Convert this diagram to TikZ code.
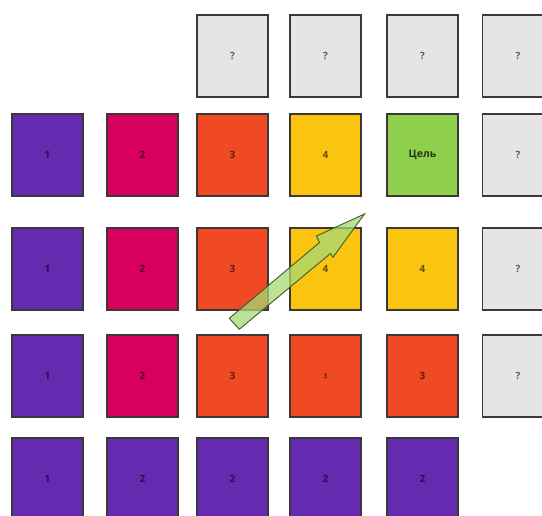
\documentclass[tikz,border=0pt]{standalone}
\usepackage{fontspec}
\setmainfont{Open Sans}
\definecolor{cpurple}{HTML}{642AB0}
\definecolor{cmagenta}{HTML}{D7005F}
\definecolor{cred}{HTML}{EF4A24}
\definecolor{cyellow}{HTML}{FAC411}
\definecolor{cgreen}{HTML}{8FCF4E}
\definecolor{cgray}{HTML}{E5E5E5}
\definecolor{cborder}{HTML}{3C3838}
\definecolor{carrow}{HTML}{A6D874}
\definecolor{carrowline}{HTML}{3F5A2E}
\begin{document}
\begin{tikzpicture}[x=1pt,y=1pt,
  card/.style={draw=cborder, line width=1.2pt, minimum width=71pt, minimum height=82pt, inner sep=0pt,
     font=\fontsize{10}{12}\selectfont\bfseries, text=black, text opacity=0.6},
  pu/.style={card, fill=cpurple},
  mg/.style={card, fill=cmagenta},
  rd/.style={card, fill=cred},
  ye/.style={card, fill=cyellow},
  gr/.style={card, fill=cgreen},
  gy/.style={card, fill=cgray}]
\useasboundingbox (0,0) rectangle (542,516);
\clip (0,0) rectangle (542,516);
% columns: 47.5, 142.5, 232.5, 325.5, 422.5, 518 ; rows (from top): 56, 155, 269, 376, 479
% row 0
\node[gy] (r0c2) at (232.5,460) {?};
\node[gy] (r0c3) at (325.5,460) {?};
\node[gy] (r0c4) at (422.5,460) {?};
\node[gy] (r0c5) at (518,460) {?};
% row 1
\node[pu] (r1c0) at (47.5,361) {1};
\node[mg] (r1c1) at (142.5,361) {2};
\node[rd] (r1c2) at (232.5,361) {3};
\node[ye] (r1c3) at (325.5,361) {4};
\node[gr, font=\fontsize{10.5}{12}\selectfont\bfseries, text opacity=0.75] (r1c4) at (422.5,361) {Цель};
\node[gy] (r1c5) at (518,361) {?};
% row 2
\node[pu] (r2c0) at (47.5,247) {1};
\node[mg] (r2c1) at (142.5,247) {2};
\node[rd] (r2c2) at (232.5,247) {3};
\node[ye] (r2c3) at (325.5,247) {4};
\node[ye] (r2c4) at (422.5,247) {4};
\node[gy] (r2c5) at (518,247) {?};
% row 3
\node[pu] (r3c0) at (47.5,140) {1};
\node[mg] (r3c1) at (142.5,140) {2};
\node[rd] (r3c2) at (232.5,140) {3};
\node[rd, font=\fontsize{6.5}{8}\selectfont\bfseries] (r3c3) at (325.5,140) {3};
\node[rd] (r3c4) at (422.5,140) {3};
\node[gy] (r3c5) at (518,140) {?};
% row 4
\node[pu] (r4c0) at (47.5,37) {1};
\node[pu] (r4c1) at (142.5,37) {2};
\node[pu] (r4c2) at (232.5,37) {2};
\node[pu] (r4c3) at (325.5,37) {2};
\node[pu] (r4c4) at (422.5,37) {2};
% arrow
\coordinate (ta) at (229.3,197.7);
\coordinate (tb) at (239.3,186.7);
\coordinate (jb) at (330.5,262.5);
\coordinate (hb) at (333,258.7);
\coordinate (tip) at (364.5,302);
\coordinate (ha) at (316.5,280);
\coordinate (ja) at (319.5,273.5);
\draw[fill=carrow, fill opacity=0.75, draw=carrowline, line width=0.9pt, line join=miter]
  (ta) -- (ja) -- (ha) -- (tip) -- (hb) -- (jb) -- (tb) -- cycle;
\end{tikzpicture}
\end{document}
